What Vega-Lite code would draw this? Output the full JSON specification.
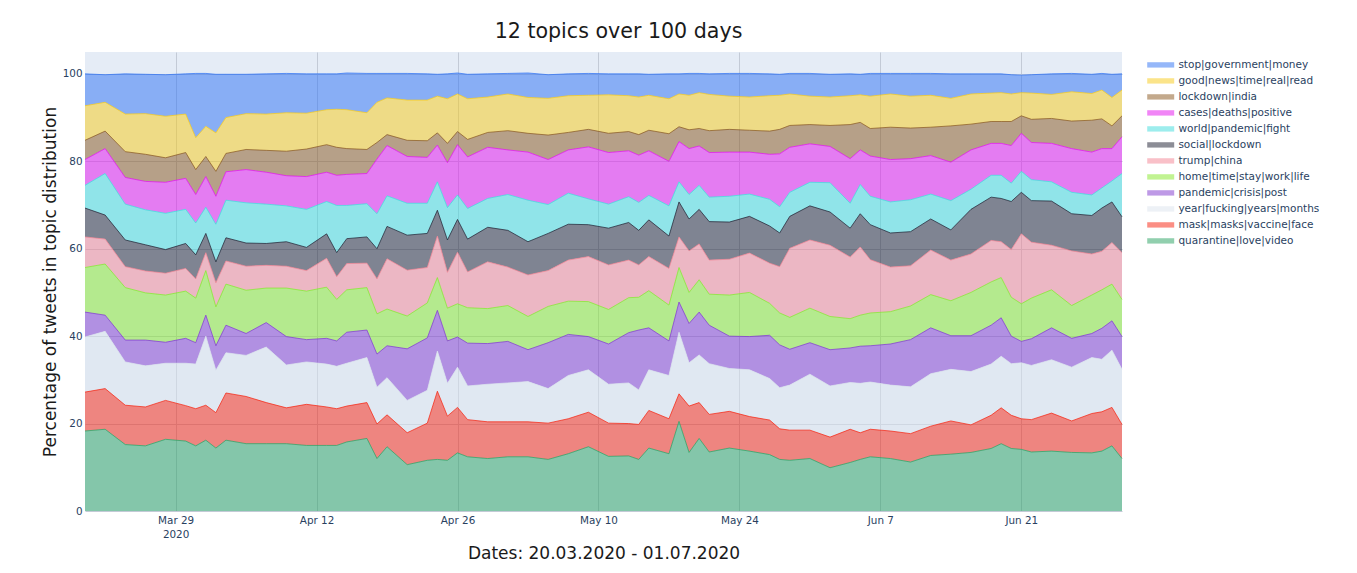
{
"$schema":"https://vega.github.io/schema/vega-lite/v6.json",
"width":1037,"height":459,
"autosize":{"type":"none"},
"padding":{"left":85,"top":52,"right":235,"bottom":62},
"background":"white",
"title":{"text":"12 topics over 100 days","fontSize":20.6,"font":"DejaVu Sans","fontWeight":"normal","color":"#1a1a1a","anchor":"middle","dx":15,"offset":9},
"datasets":{
"topics":[{"key":"stop","id":11,"topic":"stop|government|money"},{"key":"good","id":10,"topic":"good|news|time|real|read"},{"key":"lock","id":9,"topic":"lockdown|india"},{"key":"cases","id":8,"topic":"cases|deaths|positive"},{"key":"world","id":7,"topic":"world|pandemic|fight"},{"key":"social","id":6,"topic":"social|lockdown"},{"key":"trump","id":5,"topic":"trump|china"},{"key":"home","id":4,"topic":"home|time|stay|work|life"},{"key":"pand","id":3,"topic":"pandemic|crisis|post"},{"key":"year","id":2,"topic":"year|fucking|years|months"},{"key":"mask","id":1,"topic":"mask|masks|vaccine|face"},{"key":"quar","id":0,"topic":"quarantine|love|video"}],
"shares":[
{"date":"2020-03-20","key":"stop","pct":7.3},{"date":"2020-03-20","key":"good","pct":7.9},{"date":"2020-03-20","key":"lock","pct":4.4},{"date":"2020-03-20","key":"cases","pct":5.9},{"date":"2020-03-20","key":"world","pct":5.2},{"date":"2020-03-20","key":"social","pct":6.6},{"date":"2020-03-20","key":"trump","pct":7.0},{"date":"2020-03-20","key":"home","pct":10.2},{"date":"2020-03-20","key":"pand","pct":5.7},{"date":"2020-03-20","key":"year","pct":12.6},{"date":"2020-03-20","key":"mask","pct":8.9},{"date":"2020-03-20","key":"quar","pct":18.3},
{"date":"2020-03-22","key":"stop","pct":6.3},{"date":"2020-03-22","key":"good","pct":6.6},{"date":"2020-03-22","key":"lock","pct":4.0},{"date":"2020-03-22","key":"cases","pct":5.7},{"date":"2020-03-22","key":"world","pct":9.5},{"date":"2020-03-22","key":"social","pct":5.5},{"date":"2020-03-22","key":"trump","pct":5.7},{"date":"2020-03-22","key":"home","pct":11.7},{"date":"2020-03-22","key":"pand","pct":3.7},{"date":"2020-03-22","key":"year","pct":13.1},{"date":"2020-03-22","key":"mask","pct":9.3},{"date":"2020-03-22","key":"quar","pct":18.7},
{"date":"2020-03-24","key":"stop","pct":9.2},{"date":"2020-03-24","key":"good","pct":8.6},{"date":"2020-03-24","key":"lock","pct":5.9},{"date":"2020-03-24","key":"cases","pct":6.1},{"date":"2020-03-24","key":"world","pct":8.2},{"date":"2020-03-24","key":"social","pct":6.1},{"date":"2020-03-24","key":"trump","pct":4.8},{"date":"2020-03-24","key":"home","pct":12.0},{"date":"2020-03-24","key":"pand","pct":5.0},{"date":"2020-03-24","key":"year","pct":9.9},{"date":"2020-03-24","key":"mask","pct":9.0},{"date":"2020-03-24","key":"quar","pct":15.2},
{"date":"2020-03-26","key":"stop","pct":9.0},{"date":"2020-03-26","key":"good","pct":9.3},{"date":"2020-03-26","key":"lock","pct":6.2},{"date":"2020-03-26","key":"cases","pct":6.5},{"date":"2020-03-26","key":"world","pct":8.0},{"date":"2020-03-26","key":"social","pct":6.0},{"date":"2020-03-26","key":"trump","pct":5.0},{"date":"2020-03-26","key":"home","pct":10.8},{"date":"2020-03-26","key":"pand","pct":5.9},{"date":"2020-03-26","key":"year","pct":9.4},{"date":"2020-03-26","key":"mask","pct":8.9},{"date":"2020-03-26","key":"quar","pct":14.9},
{"date":"2020-03-28","key":"stop","pct":9.5},{"date":"2020-03-28","key":"good","pct":9.5},{"date":"2020-03-28","key":"lock","pct":5.6},{"date":"2020-03-28","key":"cases","pct":7.1},{"date":"2020-03-28","key":"world","pct":8.3},{"date":"2020-03-28","key":"social","pct":5.4},{"date":"2020-03-28","key":"trump","pct":5.0},{"date":"2020-03-28","key":"home","pct":10.8},{"date":"2020-03-28","key":"pand","pct":4.8},{"date":"2020-03-28","key":"year","pct":8.5},{"date":"2020-03-28","key":"mask","pct":8.9},{"date":"2020-03-28","key":"quar","pct":16.4},
{"date":"2020-03-30","key":"stop","pct":9.2},{"date":"2020-03-30","key":"good","pct":8.8},{"date":"2020-03-30","key":"lock","pct":5.9},{"date":"2020-03-30","key":"cases","pct":7.1},{"date":"2020-03-30","key":"world","pct":7.8},{"date":"2020-03-30","key":"social","pct":5.7},{"date":"2020-03-30","key":"trump","pct":5.2},{"date":"2020-03-30","key":"home","pct":10.8},{"date":"2020-03-30","key":"pand","pct":5.7},{"date":"2020-03-30","key":"year","pct":9.7},{"date":"2020-03-30","key":"mask","pct":8.1},{"date":"2020-03-30","key":"quar","pct":16.0},
{"date":"2020-03-31","key":"stop","pct":14.7},{"date":"2020-03-31","key":"good","pct":7.3},{"date":"2020-03-31","key":"lock","pct":5.7},{"date":"2020-03-31","key":"cases","pct":6.5},{"date":"2020-03-31","key":"world","pct":7.3},{"date":"2020-03-31","key":"social","pct":5.5},{"date":"2020-03-31","key":"trump","pct":4.4},{"date":"2020-03-31","key":"home","pct":10.2},{"date":"2020-03-31","key":"pand","pct":4.9},{"date":"2020-03-31","key":"year","pct":10.2},{"date":"2020-03-31","key":"mask","pct":8.5},{"date":"2020-03-31","key":"quar","pct":14.9},
{"date":"2020-04-01","key":"stop","pct":12.1},{"date":"2020-04-01","key":"good","pct":6.9},{"date":"2020-04-01","key":"lock","pct":4.6},{"date":"2020-04-01","key":"cases","pct":7.0},{"date":"2020-04-01","key":"world","pct":6.0},{"date":"2020-04-01","key":"social","pct":4.4},{"date":"2020-04-01","key":"trump","pct":4.1},{"date":"2020-04-01","key":"home","pct":10.2},{"date":"2020-04-01","key":"pand","pct":4.8},{"date":"2020-04-01","key":"year","pct":15.8},{"date":"2020-04-01","key":"mask","pct":8.0},{"date":"2020-04-01","key":"quar","pct":16.2},
{"date":"2020-04-02","key":"stop","pct":13.4},{"date":"2020-04-02","key":"good","pct":8.8},{"date":"2020-04-02","key":"lock","pct":5.7},{"date":"2020-04-02","key":"cases","pct":6.4},{"date":"2020-04-02","key":"world","pct":8.6},{"date":"2020-04-02","key":"social","pct":4.8},{"date":"2020-04-02","key":"trump","pct":5.5},{"date":"2020-04-02","key":"home","pct":8.9},{"date":"2020-04-02","key":"pand","pct":5.6},{"date":"2020-04-02","key":"year","pct":9.7},{"date":"2020-04-02","key":"mask","pct":8.1},{"date":"2020-04-02","key":"quar","pct":14.4},
{"date":"2020-04-03","key":"stop","pct":9.9},{"date":"2020-04-03","key":"good","pct":8.2},{"date":"2020-04-03","key":"lock","pct":4.2},{"date":"2020-04-03","key":"cases","pct":6.5},{"date":"2020-04-03","key":"world","pct":8.6},{"date":"2020-04-03","key":"social","pct":5.3},{"date":"2020-04-03","key":"trump","pct":5.3},{"date":"2020-04-03","key":"home","pct":9.4},{"date":"2020-04-03","key":"pand","pct":6.3},{"date":"2020-04-03","key":"year","pct":9.2},{"date":"2020-04-03","key":"mask","pct":10.8},{"date":"2020-04-03","key":"quar","pct":16.2},
{"date":"2020-04-05","key":"stop","pct":9.0},{"date":"2020-04-05","key":"good","pct":8.2},{"date":"2020-04-05","key":"lock","pct":4.6},{"date":"2020-04-05","key":"cases","pct":7.6},{"date":"2020-04-05","key":"world","pct":9.2},{"date":"2020-04-05","key":"social","pct":5.3},{"date":"2020-04-05","key":"trump","pct":5.5},{"date":"2020-04-05","key":"home","pct":9.9},{"date":"2020-04-05","key":"pand","pct":5.0},{"date":"2020-04-05","key":"year","pct":9.4},{"date":"2020-04-05","key":"mask","pct":10.8},{"date":"2020-04-05","key":"quar","pct":15.4},
{"date":"2020-04-07","key":"stop","pct":9.2},{"date":"2020-04-07","key":"good","pct":8.3},{"date":"2020-04-07","key":"lock","pct":5.0},{"date":"2020-04-07","key":"cases","pct":7.3},{"date":"2020-04-07","key":"world","pct":9.0},{"date":"2020-04-07","key":"social","pct":5.0},{"date":"2020-04-07","key":"trump","pct":5.2},{"date":"2020-04-07","key":"home","pct":7.9},{"date":"2020-04-07","key":"pand","pct":5.6},{"date":"2020-04-07","key":"year","pct":12.7},{"date":"2020-04-07","key":"mask","pct":9.4},{"date":"2020-04-07","key":"quar","pct":15.4},
{"date":"2020-04-09","key":"stop","pct":9.0},{"date":"2020-04-09","key":"good","pct":8.8},{"date":"2020-04-09","key":"lock","pct":5.6},{"date":"2020-04-09","key":"cases","pct":6.9},{"date":"2020-04-09","key":"world","pct":8.2},{"date":"2020-04-09","key":"social","pct":5.6},{"date":"2020-04-09","key":"trump","pct":5.0},{"date":"2020-04-09","key":"home","pct":11.1},{"date":"2020-04-09","key":"pand","pct":6.5},{"date":"2020-04-09","key":"year","pct":9.8},{"date":"2020-04-09","key":"mask","pct":8.2},{"date":"2020-04-09","key":"quar","pct":15.4},
{"date":"2020-04-11","key":"stop","pct":9.0},{"date":"2020-04-11","key":"good","pct":8.2},{"date":"2020-04-11","key":"lock","pct":6.3},{"date":"2020-04-11","key":"cases","pct":7.5},{"date":"2020-04-11","key":"world","pct":8.7},{"date":"2020-04-11","key":"social","pct":5.3},{"date":"2020-04-11","key":"trump","pct":4.7},{"date":"2020-04-11","key":"home","pct":11.1},{"date":"2020-04-11","key":"pand","pct":5.1},{"date":"2020-04-11","key":"year","pct":9.7},{"date":"2020-04-11","key":"mask","pct":9.4},{"date":"2020-04-11","key":"quar","pct":15.0},
{"date":"2020-04-13","key":"stop","pct":8.2},{"date":"2020-04-13","key":"good","pct":8.0},{"date":"2020-04-13","key":"lock","pct":6.3},{"date":"2020-04-13","key":"cases","pct":6.7},{"date":"2020-04-13","key":"world","pct":7.4},{"date":"2020-04-13","key":"social","pct":5.6},{"date":"2020-04-13","key":"trump","pct":6.6},{"date":"2020-04-13","key":"home","pct":11.7},{"date":"2020-04-13","key":"pand","pct":5.9},{"date":"2020-04-13","key":"year","pct":9.8},{"date":"2020-04-13","key":"mask","pct":8.8},{"date":"2020-04-13","key":"quar","pct":15.0},
{"date":"2020-04-14","key":"stop","pct":8.1},{"date":"2020-04-14","key":"good","pct":8.7},{"date":"2020-04-14","key":"lock","pct":6.4},{"date":"2020-04-14","key":"cases","pct":6.9},{"date":"2020-04-14","key":"world","pct":10.8},{"date":"2020-04-14","key":"social","pct":5.5},{"date":"2020-04-14","key":"trump","pct":5.2},{"date":"2020-04-14","key":"home","pct":9.5},{"date":"2020-04-14","key":"pand","pct":5.8},{"date":"2020-04-14","key":"year","pct":9.7},{"date":"2020-04-14","key":"mask","pct":8.4},{"date":"2020-04-14","key":"quar","pct":15.0},
{"date":"2020-04-15","key":"stop","pct":8.4},{"date":"2020-04-15","key":"good","pct":8.9},{"date":"2020-04-15","key":"lock","pct":5.9},{"date":"2020-04-15","key":"cases","pct":7.1},{"date":"2020-04-15","key":"world","pct":7.6},{"date":"2020-04-15","key":"social","pct":5.7},{"date":"2020-04-15","key":"trump","pct":6.0},{"date":"2020-04-15","key":"home","pct":9.7},{"date":"2020-04-15","key":"pand","pct":7.1},{"date":"2020-04-15","key":"year","pct":9.8},{"date":"2020-04-15","key":"mask","pct":8.2},{"date":"2020-04-15","key":"quar","pct":15.8},
{"date":"2020-04-17","key":"stop","pct":9.0},{"date":"2020-04-17","key":"good","pct":8.4},{"date":"2020-04-17","key":"lock","pct":5.5},{"date":"2020-04-17","key":"cases","pct":6.9},{"date":"2020-04-17","key":"world","pct":7.6},{"date":"2020-04-17","key":"social","pct":6.0},{"date":"2020-04-17","key":"trump","pct":5.6},{"date":"2020-04-17","key":"home","pct":9.7},{"date":"2020-04-17","key":"pand","pct":6.3},{"date":"2020-04-17","key":"year","pct":10.3},{"date":"2020-04-17","key":"mask","pct":8.2},{"date":"2020-04-17","key":"quar","pct":16.6},
{"date":"2020-04-18","key":"stop","pct":6.6},{"date":"2020-04-18","key":"good","pct":9.2},{"date":"2020-04-18","key":"lock","pct":3.8},{"date":"2020-04-18","key":"cases","pct":12.5},{"date":"2020-04-18","key":"world","pct":8.0},{"date":"2020-04-18","key":"social","pct":6.9},{"date":"2020-04-18","key":"trump","pct":8.0},{"date":"2020-04-18","key":"home","pct":9.2},{"date":"2020-04-18","key":"pand","pct":7.6},{"date":"2020-04-18","key":"year","pct":8.4},{"date":"2020-04-18","key":"mask","pct":7.9},{"date":"2020-04-18","key":"quar","pct":12.0},
{"date":"2020-04-19","key":"stop","pct":5.6},{"date":"2020-04-19","key":"good","pct":8.4},{"date":"2020-04-19","key":"lock","pct":2.5},{"date":"2020-04-19","key":"cases","pct":11.5},{"date":"2020-04-19","key":"world","pct":7.0},{"date":"2020-04-19","key":"social","pct":7.4},{"date":"2020-04-19","key":"trump","pct":11.5},{"date":"2020-04-19","key":"home","pct":8.4},{"date":"2020-04-19","key":"pand","pct":7.3},{"date":"2020-04-19","key":"year","pct":8.5},{"date":"2020-04-19","key":"mask","pct":7.3},{"date":"2020-04-19","key":"quar","pct":14.7},
{"date":"2020-04-21","key":"stop","pct":6.1},{"date":"2020-04-21","key":"good","pct":9.2},{"date":"2020-04-21","key":"lock","pct":3.7},{"date":"2020-04-21","key":"cases","pct":10.7},{"date":"2020-04-21","key":"world","pct":7.3},{"date":"2020-04-21","key":"social","pct":8.0},{"date":"2020-04-21","key":"trump","pct":10.5},{"date":"2020-04-21","key":"home","pct":7.5},{"date":"2020-04-21","key":"pand","pct":11.8},{"date":"2020-04-21","key":"year","pct":7.4},{"date":"2020-04-21","key":"mask","pct":7.3},{"date":"2020-04-21","key":"quar","pct":10.6},
{"date":"2020-04-23","key":"stop","pct":6.0},{"date":"2020-04-23","key":"good","pct":9.3},{"date":"2020-04-23","key":"lock","pct":3.8},{"date":"2020-04-23","key":"cases","pct":10.5},{"date":"2020-04-23","key":"world","pct":6.9},{"date":"2020-04-23","key":"social","pct":7.8},{"date":"2020-04-23","key":"trump","pct":8.1},{"date":"2020-04-23","key":"home","pct":8.0},{"date":"2020-04-23","key":"pand","pct":12.0},{"date":"2020-04-23","key":"year","pct":7.5},{"date":"2020-04-23","key":"mask","pct":8.5},{"date":"2020-04-23","key":"quar","pct":11.6},
{"date":"2020-04-24","key":"stop","pct":5.0},{"date":"2020-04-24","key":"good","pct":8.4},{"date":"2020-04-24","key":"lock","pct":2.8},{"date":"2020-04-24","key":"cases","pct":8.4},{"date":"2020-04-24","key":"world","pct":6.5},{"date":"2020-04-24","key":"social","pct":5.9},{"date":"2020-04-24","key":"trump","pct":9.5},{"date":"2020-04-24","key":"home","pct":7.5},{"date":"2020-04-24","key":"pand","pct":9.3},{"date":"2020-04-24","key":"year","pct":9.2},{"date":"2020-04-24","key":"mask","pct":15.6},{"date":"2020-04-24","key":"quar","pct":11.8},
{"date":"2020-04-25","key":"stop","pct":5.7},{"date":"2020-04-25","key":"good","pct":10.2},{"date":"2020-04-25","key":"lock","pct":4.4},{"date":"2020-04-25","key":"cases","pct":10.3},{"date":"2020-04-25","key":"world","pct":7.4},{"date":"2020-04-25","key":"social","pct":7.4},{"date":"2020-04-25","key":"trump","pct":8.2},{"date":"2020-04-25","key":"home","pct":7.5},{"date":"2020-04-25","key":"pand","pct":9.7},{"date":"2020-04-25","key":"year","pct":7.5},{"date":"2020-04-25","key":"mask","pct":10.1},{"date":"2020-04-25","key":"quar","pct":11.6},
{"date":"2020-04-26","key":"stop","pct":4.8},{"date":"2020-04-26","key":"good","pct":8.6},{"date":"2020-04-26","key":"lock","pct":3.0},{"date":"2020-04-26","key":"cases","pct":11.5},{"date":"2020-04-26","key":"world","pct":5.6},{"date":"2020-04-26","key":"social","pct":7.5},{"date":"2020-04-26","key":"trump","pct":11.8},{"date":"2020-04-26","key":"home","pct":7.6},{"date":"2020-04-26","key":"pand","pct":6.9},{"date":"2020-04-26","key":"year","pct":9.2},{"date":"2020-04-26","key":"mask","pct":10.4},{"date":"2020-04-26","key":"quar","pct":13.3},
{"date":"2020-04-27","key":"stop","pct":5.6},{"date":"2020-04-27","key":"good","pct":9.3},{"date":"2020-04-27","key":"lock","pct":4.0},{"date":"2020-04-27","key":"cases","pct":11.8},{"date":"2020-04-27","key":"world","pct":7.0},{"date":"2020-04-27","key":"social","pct":7.5},{"date":"2020-04-27","key":"trump","pct":8.2},{"date":"2020-04-27","key":"home","pct":8.1},{"date":"2020-04-27","key":"pand","pct":9.8},{"date":"2020-04-27","key":"year","pct":7.7},{"date":"2020-04-27","key":"mask","pct":8.5},{"date":"2020-04-27","key":"quar","pct":12.4},
{"date":"2020-04-29","key":"stop","pct":5.3},{"date":"2020-04-29","key":"good","pct":8.1},{"date":"2020-04-29","key":"lock","pct":3.4},{"date":"2020-04-29","key":"cases","pct":11.7},{"date":"2020-04-29","key":"world","pct":6.6},{"date":"2020-04-29","key":"social","pct":7.9},{"date":"2020-04-29","key":"trump","pct":10.7},{"date":"2020-04-29","key":"home","pct":8.0},{"date":"2020-04-29","key":"pand","pct":9.3},{"date":"2020-04-29","key":"year","pct":8.6},{"date":"2020-04-29","key":"mask","pct":8.4},{"date":"2020-04-29","key":"quar","pct":12.0},
{"date":"2020-05-01","key":"stop","pct":4.7},{"date":"2020-05-01","key":"good","pct":8.4},{"date":"2020-05-01","key":"lock","pct":4.4},{"date":"2020-05-01","key":"cases","pct":10.2},{"date":"2020-05-01","key":"world","pct":8.2},{"date":"2020-05-01","key":"social","pct":8.4},{"date":"2020-05-01","key":"trump","pct":8.8},{"date":"2020-05-01","key":"home","pct":8.2},{"date":"2020-05-01","key":"pand","pct":9.5},{"date":"2020-05-01","key":"year","pct":8.9},{"date":"2020-05-01","key":"mask","pct":8.0},{"date":"2020-05-01","key":"quar","pct":12.4},
{"date":"2020-05-03","key":"stop","pct":5.6},{"date":"2020-05-03","key":"good","pct":8.2},{"date":"2020-05-03","key":"lock","pct":4.3},{"date":"2020-05-03","key":"cases","pct":11.0},{"date":"2020-05-03","key":"world","pct":9.5},{"date":"2020-05-03","key":"social","pct":7.6},{"date":"2020-05-03","key":"trump","pct":9.5},{"date":"2020-05-03","key":"home","pct":7.6},{"date":"2020-05-03","key":"pand","pct":7.3},{"date":"2020-05-03","key":"year","pct":9.2},{"date":"2020-05-03","key":"mask","pct":8.0},{"date":"2020-05-03","key":"quar","pct":12.4},
{"date":"2020-05-05","key":"stop","pct":5.4},{"date":"2020-05-05","key":"good","pct":8.4},{"date":"2020-05-05","key":"lock","pct":5.6},{"date":"2020-05-05","key":"cases","pct":10.3},{"date":"2020-05-05","key":"world","pct":6.6},{"date":"2020-05-05","key":"social","pct":8.5},{"date":"2020-05-05","key":"trump","pct":8.2},{"date":"2020-05-05","key":"home","pct":8.3},{"date":"2020-05-05","key":"pand","pct":10.5},{"date":"2020-05-05","key":"year","pct":7.9},{"date":"2020-05-05","key":"mask","pct":8.3},{"date":"2020-05-05","key":"quar","pct":11.8},
{"date":"2020-05-07","key":"stop","pct":5.0},{"date":"2020-05-07","key":"good","pct":8.4},{"date":"2020-05-07","key":"lock","pct":4.0},{"date":"2020-05-07","key":"cases","pct":9.9},{"date":"2020-05-07","key":"world","pct":7.1},{"date":"2020-05-07","key":"social","pct":8.2},{"date":"2020-05-07","key":"trump","pct":9.4},{"date":"2020-05-07","key":"home","pct":7.6},{"date":"2020-05-07","key":"pand","pct":9.4},{"date":"2020-05-07","key":"year","pct":9.9},{"date":"2020-05-07","key":"mask","pct":8.0},{"date":"2020-05-07","key":"quar","pct":13.1},
{"date":"2020-05-09","key":"stop","pct":5.0},{"date":"2020-05-09","key":"good","pct":7.8},{"date":"2020-05-09","key":"lock","pct":4.0},{"date":"2020-05-09","key":"cases","pct":11.9},{"date":"2020-05-09","key":"world","pct":5.9},{"date":"2020-05-09","key":"social","pct":7.3},{"date":"2020-05-09","key":"trump","pct":10.3},{"date":"2020-05-09","key":"home","pct":8.0},{"date":"2020-05-09","key":"pand","pct":7.6},{"date":"2020-05-09","key":"year","pct":9.7},{"date":"2020-05-09","key":"mask","pct":7.9},{"date":"2020-05-09","key":"quar","pct":14.7},
{"date":"2020-05-11","key":"stop","pct":4.8},{"date":"2020-05-11","key":"good","pct":8.8},{"date":"2020-05-11","key":"lock","pct":4.4},{"date":"2020-05-11","key":"cases","pct":11.8},{"date":"2020-05-11","key":"world","pct":5.5},{"date":"2020-05-11","key":"social","pct":8.4},{"date":"2020-05-11","key":"trump","pct":10.2},{"date":"2020-05-11","key":"home","pct":7.9},{"date":"2020-05-11","key":"pand","pct":9.2},{"date":"2020-05-11","key":"year","pct":8.9},{"date":"2020-05-11","key":"mask","pct":7.6},{"date":"2020-05-11","key":"quar","pct":12.5},
{"date":"2020-05-13","key":"stop","pct":5.0},{"date":"2020-05-13","key":"good","pct":8.2},{"date":"2020-05-13","key":"lock","pct":4.4},{"date":"2020-05-13","key":"cases","pct":10.5},{"date":"2020-05-13","key":"world","pct":5.9},{"date":"2020-05-13","key":"social","pct":8.6},{"date":"2020-05-13","key":"trump","pct":8.6},{"date":"2020-05-13","key":"home","pct":8.0},{"date":"2020-05-13","key":"pand","pct":11.5},{"date":"2020-05-13","key":"year","pct":9.3},{"date":"2020-05-13","key":"mask","pct":7.4},{"date":"2020-05-13","key":"quar","pct":12.6},
{"date":"2020-05-14","key":"stop","pct":5.3},{"date":"2020-05-14","key":"good","pct":8.6},{"date":"2020-05-14","key":"lock","pct":4.7},{"date":"2020-05-14","key":"cases","pct":10.8},{"date":"2020-05-14","key":"world","pct":6.4},{"date":"2020-05-14","key":"social","pct":7.9},{"date":"2020-05-14","key":"trump","pct":7.4},{"date":"2020-05-14","key":"home","pct":7.5},{"date":"2020-05-14","key":"pand","pct":13.7},{"date":"2020-05-14","key":"year","pct":7.9},{"date":"2020-05-14","key":"mask","pct":8.0},{"date":"2020-05-14","key":"quar","pct":11.8},
{"date":"2020-05-15","key":"stop","pct":4.8},{"date":"2020-05-15","key":"good","pct":8.0},{"date":"2020-05-15","key":"lock","pct":4.7},{"date":"2020-05-15","key":"cases","pct":10.2},{"date":"2020-05-15","key":"world","pct":5.6},{"date":"2020-05-15","key":"social","pct":8.4},{"date":"2020-05-15","key":"trump","pct":7.8},{"date":"2020-05-15","key":"home","pct":8.5},{"date":"2020-05-15","key":"pand","pct":9.6},{"date":"2020-05-15","key":"year","pct":9.3},{"date":"2020-05-15","key":"mask","pct":8.6},{"date":"2020-05-15","key":"quar","pct":14.4},
{"date":"2020-05-17","key":"stop","pct":5.7},{"date":"2020-05-17","key":"good","pct":8.0},{"date":"2020-05-17","key":"lock","pct":6.3},{"date":"2020-05-17","key":"cases","pct":10.2},{"date":"2020-05-17","key":"world","pct":6.9},{"date":"2020-05-17","key":"social","pct":7.4},{"date":"2020-05-17","key":"trump","pct":8.4},{"date":"2020-05-17","key":"home","pct":8.2},{"date":"2020-05-17","key":"pand","pct":7.9},{"date":"2020-05-17","key":"year","pct":9.9},{"date":"2020-05-17","key":"mask","pct":8.0},{"date":"2020-05-17","key":"quar","pct":13.1},
{"date":"2020-05-18","key":"stop","pct":4.6},{"date":"2020-05-18","key":"good","pct":7.5},{"date":"2020-05-18","key":"lock","pct":3.4},{"date":"2020-05-18","key":"cases","pct":9.2},{"date":"2020-05-18","key":"world","pct":4.6},{"date":"2020-05-18","key":"social","pct":8.0},{"date":"2020-05-18","key":"trump","pct":7.0},{"date":"2020-05-18","key":"home","pct":7.9},{"date":"2020-05-18","key":"pand","pct":6.9},{"date":"2020-05-18","key":"year","pct":14.1},{"date":"2020-05-18","key":"mask","pct":6.3},{"date":"2020-05-18","key":"quar","pct":20.5},
{"date":"2020-05-19","key":"stop","pct":5.0},{"date":"2020-05-19","key":"good","pct":7.9},{"date":"2020-05-19","key":"lock","pct":4.3},{"date":"2020-05-19","key":"cases","pct":10.5},{"date":"2020-05-19","key":"world","pct":5.6},{"date":"2020-05-19","key":"social","pct":7.3},{"date":"2020-05-19","key":"trump","pct":9.5},{"date":"2020-05-19","key":"home","pct":7.1},{"date":"2020-05-19","key":"pand","pct":9.0},{"date":"2020-05-19","key":"year","pct":9.9},{"date":"2020-05-19","key":"mask","pct":10.6},{"date":"2020-05-19","key":"quar","pct":13.4},
{"date":"2020-05-20","key":"stop","pct":4.4},{"date":"2020-05-20","key":"good","pct":8.2},{"date":"2020-05-20","key":"lock","pct":4.0},{"date":"2020-05-20","key":"cases","pct":9.0},{"date":"2020-05-20","key":"world","pct":5.5},{"date":"2020-05-20","key":"social","pct":7.9},{"date":"2020-05-20","key":"trump","pct":8.2},{"date":"2020-05-20","key":"home","pct":7.4},{"date":"2020-05-20","key":"pand","pct":9.8},{"date":"2020-05-20","key":"year","pct":10.9},{"date":"2020-05-20","key":"mask","pct":8.2},{"date":"2020-05-20","key":"quar","pct":16.6},
{"date":"2020-05-21","key":"stop","pct":4.7},{"date":"2020-05-21","key":"good","pct":8.3},{"date":"2020-05-21","key":"lock","pct":5.0},{"date":"2020-05-21","key":"cases","pct":10.2},{"date":"2020-05-21","key":"world","pct":5.6},{"date":"2020-05-21","key":"social","pct":8.8},{"date":"2020-05-21","key":"trump","pct":7.8},{"date":"2020-05-21","key":"home","pct":7.1},{"date":"2020-05-21","key":"pand","pct":8.8},{"date":"2020-05-21","key":"year","pct":11.6},{"date":"2020-05-21","key":"mask","pct":8.6},{"date":"2020-05-21","key":"quar","pct":13.5},
{"date":"2020-05-23","key":"stop","pct":5.2},{"date":"2020-05-23","key":"good","pct":7.6},{"date":"2020-05-23","key":"lock","pct":5.2},{"date":"2020-05-23","key":"cases","pct":10.1},{"date":"2020-05-23","key":"world","pct":5.9},{"date":"2020-05-23","key":"social","pct":8.5},{"date":"2020-05-23","key":"trump","pct":8.2},{"date":"2020-05-23","key":"home","pct":9.4},{"date":"2020-05-23","key":"pand","pct":7.4},{"date":"2020-05-23","key":"year","pct":9.8},{"date":"2020-05-23","key":"mask","pct":8.4},{"date":"2020-05-23","key":"quar","pct":14.4},
{"date":"2020-05-25","key":"stop","pct":5.4},{"date":"2020-05-25","key":"good","pct":7.6},{"date":"2020-05-25","key":"lock","pct":5.0},{"date":"2020-05-25","key":"cases","pct":9.6},{"date":"2020-05-25","key":"world","pct":5.1},{"date":"2020-05-25","key":"social","pct":8.4},{"date":"2020-05-25","key":"trump","pct":9.0},{"date":"2020-05-25","key":"home","pct":10.1},{"date":"2020-05-25","key":"pand","pct":7.6},{"date":"2020-05-25","key":"year","pct":10.7},{"date":"2020-05-25","key":"mask","pct":7.9},{"date":"2020-05-25","key":"quar","pct":13.7},
{"date":"2020-05-27","key":"stop","pct":5.0},{"date":"2020-05-27","key":"good","pct":8.1},{"date":"2020-05-27","key":"lock","pct":5.3},{"date":"2020-05-27","key":"cases","pct":10.3},{"date":"2020-05-27","key":"world","pct":6.1},{"date":"2020-05-27","key":"social","pct":8.5},{"date":"2020-05-27","key":"trump","pct":9.2},{"date":"2020-05-27","key":"home","pct":7.3},{"date":"2020-05-27","key":"pand","pct":9.9},{"date":"2020-05-27","key":"year","pct":9.5},{"date":"2020-05-27","key":"mask","pct":7.9},{"date":"2020-05-27","key":"quar","pct":12.9},
{"date":"2020-05-28","key":"stop","pct":4.8},{"date":"2020-05-28","key":"good","pct":7.8},{"date":"2020-05-28","key":"lock","pct":5.6},{"date":"2020-05-28","key":"cases","pct":12.1},{"date":"2020-05-28","key":"world","pct":6.0},{"date":"2020-05-28","key":"social","pct":7.7},{"date":"2020-05-28","key":"trump","pct":10.6},{"date":"2020-05-28","key":"home","pct":7.3},{"date":"2020-05-28","key":"pand","pct":9.8},{"date":"2020-05-28","key":"year","pct":9.4},{"date":"2020-05-28","key":"mask","pct":7.0},{"date":"2020-05-28","key":"quar","pct":11.8},
{"date":"2020-05-29","key":"stop","pct":4.7},{"date":"2020-05-29","key":"good","pct":7.2},{"date":"2020-05-29","key":"lock","pct":5.0},{"date":"2020-05-29","key":"cases","pct":10.3},{"date":"2020-05-29","key":"world","pct":5.5},{"date":"2020-05-29","key":"social","pct":7.3},{"date":"2020-05-29","key":"trump","pct":15.8},{"date":"2020-05-29","key":"home","pct":7.3},{"date":"2020-05-29","key":"pand","pct":8.2},{"date":"2020-05-29","key":"year","pct":10.3},{"date":"2020-05-29","key":"mask","pct":6.9},{"date":"2020-05-29","key":"quar","pct":11.6},
{"date":"2020-05-31","key":"stop","pct":5.2},{"date":"2020-05-31","key":"good","pct":6.5},{"date":"2020-05-31","key":"lock","pct":4.4},{"date":"2020-05-31","key":"cases","pct":8.8},{"date":"2020-05-31","key":"world","pct":5.4},{"date":"2020-05-31","key":"social","pct":7.8},{"date":"2020-05-31","key":"trump","pct":15.6},{"date":"2020-05-31","key":"home","pct":7.9},{"date":"2020-05-31","key":"pand","pct":7.2},{"date":"2020-05-31","key":"year","pct":12.8},{"date":"2020-05-31","key":"mask","pct":6.5},{"date":"2020-05-31","key":"quar","pct":12.0},
{"date":"2020-06-02","key":"stop","pct":5.2},{"date":"2020-06-02","key":"good","pct":6.5},{"date":"2020-06-02","key":"lock","pct":4.8},{"date":"2020-06-02","key":"cases","pct":8.3},{"date":"2020-06-02","key":"world","pct":6.7},{"date":"2020-06-02","key":"social","pct":7.6},{"date":"2020-06-02","key":"trump","pct":16.3},{"date":"2020-06-02","key":"home","pct":7.6},{"date":"2020-06-02","key":"pand","pct":8.3},{"date":"2020-06-02","key":"year","pct":11.7},{"date":"2020-06-02","key":"mask","pct":7.0},{"date":"2020-06-02","key":"quar","pct":9.9},
{"date":"2020-06-04","key":"stop","pct":5.0},{"date":"2020-06-04","key":"good","pct":6.6},{"date":"2020-06-04","key":"lock","pct":7.8},{"date":"2020-06-04","key":"cases","pct":10.2},{"date":"2020-06-04","key":"world","pct":5.7},{"date":"2020-06-04","key":"social","pct":6.6},{"date":"2020-06-04","key":"trump","pct":14.1},{"date":"2020-06-04","key":"home","pct":6.7},{"date":"2020-06-04","key":"pand","pct":7.9},{"date":"2020-06-04","key":"year","pct":10.7},{"date":"2020-06-04","key":"mask","pct":7.6},{"date":"2020-06-04","key":"quar","pct":11.1},
{"date":"2020-06-05","key":"stop","pct":4.7},{"date":"2020-06-05","key":"good","pct":6.3},{"date":"2020-06-05","key":"lock","pct":6.3},{"date":"2020-06-05","key":"cases","pct":7.9},{"date":"2020-06-05","key":"world","pct":6.7},{"date":"2020-06-05","key":"social","pct":7.6},{"date":"2020-06-05","key":"trump","pct":15.6},{"date":"2020-06-05","key":"home","pct":7.1},{"date":"2020-06-05","key":"pand","pct":8.5},{"date":"2020-06-05","key":"year","pct":11.3},{"date":"2020-06-05","key":"mask","pct":6.1},{"date":"2020-06-05","key":"quar","pct":11.8},
{"date":"2020-06-06","key":"stop","pct":5.2},{"date":"2020-06-06","key":"good","pct":7.4},{"date":"2020-06-06","key":"lock","pct":6.3},{"date":"2020-06-06","key":"cases","pct":9.2},{"date":"2020-06-06","key":"world","pct":6.5},{"date":"2020-06-06","key":"social","pct":8.0},{"date":"2020-06-06","key":"trump","pct":12.2},{"date":"2020-06-06","key":"home","pct":7.5},{"date":"2020-06-06","key":"pand","pct":8.3},{"date":"2020-06-06","key":"year","pct":10.8},{"date":"2020-06-06","key":"mask","pct":6.3},{"date":"2020-06-06","key":"quar","pct":12.4},
{"date":"2020-06-08","key":"stop","pct":4.7},{"date":"2020-06-08","key":"good","pct":7.6},{"date":"2020-06-08","key":"lock","pct":7.4},{"date":"2020-06-08","key":"cases","pct":9.7},{"date":"2020-06-08","key":"world","pct":7.1},{"date":"2020-06-08","key":"social","pct":7.8},{"date":"2020-06-08","key":"trump","pct":10.2},{"date":"2020-06-08","key":"home","pct":7.4},{"date":"2020-06-08","key":"pand","pct":9.4},{"date":"2020-06-08","key":"year","pct":10.5},{"date":"2020-06-08","key":"mask","pct":6.3},{"date":"2020-06-08","key":"quar","pct":12.0},
{"date":"2020-06-10","key":"stop","pct":5.2},{"date":"2020-06-10","key":"good","pct":7.3},{"date":"2020-06-10","key":"lock","pct":7.0},{"date":"2020-06-10","key":"cases","pct":9.4},{"date":"2020-06-10","key":"world","pct":7.3},{"date":"2020-06-10","key":"social","pct":7.8},{"date":"2020-06-10","key":"trump","pct":9.2},{"date":"2020-06-10","key":"home","pct":7.7},{"date":"2020-06-10","key":"pand","pct":10.8},{"date":"2020-06-10","key":"year","pct":10.7},{"date":"2020-06-10","key":"mask","pct":6.5},{"date":"2020-06-10","key":"quar","pct":11.2},
{"date":"2020-06-12","key":"stop","pct":5.0},{"date":"2020-06-12","key":"good","pct":7.3},{"date":"2020-06-12","key":"lock","pct":6.5},{"date":"2020-06-12","key":"cases","pct":8.8},{"date":"2020-06-12","key":"world","pct":5.7},{"date":"2020-06-12","key":"social","pct":7.1},{"date":"2020-06-12","key":"trump","pct":10.2},{"date":"2020-06-12","key":"home","pct":7.6},{"date":"2020-06-12","key":"pand","pct":10.5},{"date":"2020-06-12","key":"year","pct":12.0},{"date":"2020-06-12","key":"mask","pct":6.7},{"date":"2020-06-12","key":"quar","pct":12.7},
{"date":"2020-06-14","key":"stop","pct":5.6},{"date":"2020-06-14","key":"good","pct":6.3},{"date":"2020-06-14","key":"lock","pct":8.3},{"date":"2020-06-14","key":"cases","pct":8.8},{"date":"2020-06-14","key":"world","pct":6.7},{"date":"2020-06-14","key":"social","pct":6.9},{"date":"2020-06-14","key":"trump","pct":9.3},{"date":"2020-06-14","key":"home","pct":8.0},{"date":"2020-06-14","key":"pand","pct":7.7},{"date":"2020-06-14","key":"year","pct":11.8},{"date":"2020-06-14","key":"mask","pct":7.6},{"date":"2020-06-14","key":"quar","pct":13.0},
{"date":"2020-06-16","key":"stop","pct":4.6},{"date":"2020-06-16","key":"good","pct":6.9},{"date":"2020-06-16","key":"lock","pct":5.9},{"date":"2020-06-16","key":"cases","pct":9.0},{"date":"2020-06-16","key":"world","pct":4.6},{"date":"2020-06-16","key":"social","pct":10.2},{"date":"2020-06-16","key":"trump","pct":8.8},{"date":"2020-06-16","key":"home","pct":9.9},{"date":"2020-06-16","key":"pand","pct":8.2},{"date":"2020-06-16","key":"year","pct":12.2},{"date":"2020-06-16","key":"mask","pct":6.3},{"date":"2020-06-16","key":"quar","pct":13.4},
{"date":"2020-06-18","key":"stop","pct":4.4},{"date":"2020-06-18","key":"good","pct":6.5},{"date":"2020-06-18","key":"lock","pct":5.0},{"date":"2020-06-18","key":"cases","pct":7.3},{"date":"2020-06-18","key":"world","pct":5.0},{"date":"2020-06-18","key":"social","pct":9.9},{"date":"2020-06-18","key":"trump","pct":9.5},{"date":"2020-06-18","key":"home","pct":9.9},{"date":"2020-06-18","key":"pand","pct":8.9},{"date":"2020-06-18","key":"year","pct":11.7},{"date":"2020-06-18","key":"mask","pct":7.6},{"date":"2020-06-18","key":"quar","pct":14.3},
{"date":"2020-06-19","key":"stop","pct":4.3},{"date":"2020-06-19","key":"good","pct":6.6},{"date":"2020-06-19","key":"lock","pct":5.0},{"date":"2020-06-19","key":"cases","pct":7.3},{"date":"2020-06-19","key":"world","pct":5.3},{"date":"2020-06-19","key":"social","pct":9.9},{"date":"2020-06-19","key":"trump","pct":8.2},{"date":"2020-06-19","key":"home","pct":9.2},{"date":"2020-06-19","key":"pand","pct":8.8},{"date":"2020-06-19","key":"year","pct":11.8},{"date":"2020-06-19","key":"mask","pct":8.2},{"date":"2020-06-19","key":"quar","pct":15.4},
{"date":"2020-06-20","key":"stop","pct":4.4},{"date":"2020-06-20","key":"good","pct":6.3},{"date":"2020-06-20","key":"lock","pct":5.5},{"date":"2020-06-20","key":"cases","pct":8.6},{"date":"2020-06-20","key":"world","pct":4.2},{"date":"2020-06-20","key":"social","pct":11.0},{"date":"2020-06-20","key":"trump","pct":10.9},{"date":"2020-06-20","key":"home","pct":8.9},{"date":"2020-06-20","key":"pand","pct":6.3},{"date":"2020-06-20","key":"year","pct":11.8},{"date":"2020-06-20","key":"mask","pct":7.6},{"date":"2020-06-20","key":"quar","pct":14.3},
{"date":"2020-06-21","key":"stop","pct":4.0},{"date":"2020-06-21","key":"good","pct":5.3},{"date":"2020-06-21","key":"lock","pct":4.0},{"date":"2020-06-21","key":"cases","pct":8.7},{"date":"2020-06-21","key":"world","pct":4.8},{"date":"2020-06-21","key":"social","pct":9.5},{"date":"2020-06-21","key":"trump","pct":16.0},{"date":"2020-06-21","key":"home","pct":8.6},{"date":"2020-06-21","key":"pand","pct":4.9},{"date":"2020-06-21","key":"year","pct":12.8},{"date":"2020-06-21","key":"mask","pct":7.0},{"date":"2020-06-21","key":"quar","pct":14.1},
{"date":"2020-06-22","key":"stop","pct":4.2},{"date":"2020-06-22","key":"good","pct":6.0},{"date":"2020-06-22","key":"lock","pct":5.3},{"date":"2020-06-22","key":"cases","pct":8.5},{"date":"2020-06-22","key":"world","pct":4.8},{"date":"2020-06-22","key":"social","pct":9.5},{"date":"2020-06-22","key":"trump","pct":12.8},{"date":"2020-06-22","key":"home","pct":9.3},{"date":"2020-06-22","key":"pand","pct":6.1},{"date":"2020-06-22","key":"year","pct":12.4},{"date":"2020-06-22","key":"mask","pct":7.4},{"date":"2020-06-22","key":"quar","pct":13.5},
{"date":"2020-06-24","key":"stop","pct":4.7},{"date":"2020-06-24","key":"good","pct":5.5},{"date":"2020-06-24","key":"lock","pct":5.7},{"date":"2020-06-24","key":"cases","pct":8.8},{"date":"2020-06-24","key":"world","pct":4.4},{"date":"2020-06-24","key":"social","pct":10.1},{"date":"2020-06-24","key":"trump","pct":10.2},{"date":"2020-06-24","key":"home","pct":8.7},{"date":"2020-06-24","key":"pand","pct":7.3},{"date":"2020-06-24","key":"year","pct":12.2},{"date":"2020-06-24","key":"mask","pct":8.7},{"date":"2020-06-24","key":"quar","pct":13.7},
{"date":"2020-06-26","key":"stop","pct":4.2},{"date":"2020-06-26","key":"good","pct":6.7},{"date":"2020-06-26","key":"lock","pct":6.3},{"date":"2020-06-26","key":"cases","pct":10.0},{"date":"2020-06-26","key":"world","pct":4.9},{"date":"2020-06-26","key":"social","pct":8.5},{"date":"2020-06-26","key":"trump","pct":12.5},{"date":"2020-06-26","key":"home","pct":7.5},{"date":"2020-06-26","key":"pand","pct":6.6},{"date":"2020-06-26","key":"year","pct":12.3},{"date":"2020-06-26","key":"mask","pct":7.2},{"date":"2020-06-26","key":"quar","pct":13.4},
{"date":"2020-06-28","key":"stop","pct":4.4},{"date":"2020-06-28","key":"good","pct":6.1},{"date":"2020-06-28","key":"lock","pct":7.3},{"date":"2020-06-28","key":"cases","pct":9.8},{"date":"2020-06-28","key":"world","pct":4.7},{"date":"2020-06-28","key":"social","pct":8.8},{"date":"2020-06-28","key":"trump","pct":9.4},{"date":"2020-06-28","key":"home","pct":8.8},{"date":"2020-06-28","key":"pand","pct":5.5},{"date":"2020-06-28","key":"year","pct":12.8},{"date":"2020-06-28","key":"mask","pct":9.0},{"date":"2020-06-28","key":"quar","pct":13.3},
{"date":"2020-06-29","key":"stop","pct":3.8},{"date":"2020-06-29","key":"good","pct":6.6},{"date":"2020-06-29","key":"lock","pct":6.8},{"date":"2020-06-29","key":"cases","pct":9.0},{"date":"2020-06-29","key":"world","pct":4.6},{"date":"2020-06-29","key":"social","pct":9.9},{"date":"2020-06-29","key":"trump","pct":8.8},{"date":"2020-06-29","key":"home","pct":8.8},{"date":"2020-06-29","key":"pand","pct":7.1},{"date":"2020-06-29","key":"year","pct":12.0},{"date":"2020-06-29","key":"mask","pct":9.0},{"date":"2020-06-29","key":"quar","pct":13.7},
{"date":"2020-06-30","key":"stop","pct":5.3},{"date":"2020-06-30","key":"good","pct":6.5},{"date":"2020-06-30","key":"lock","pct":5.2},{"date":"2020-06-30","key":"cases","pct":7.4},{"date":"2020-06-30","key":"world","pct":4.8},{"date":"2020-06-30","key":"social","pct":9.3},{"date":"2020-06-30","key":"trump","pct":9.5},{"date":"2020-06-30","key":"home","pct":8.4},{"date":"2020-06-30","key":"pand","pct":6.7},{"date":"2020-06-30","key":"year","pct":13.1},{"date":"2020-06-30","key":"mask","pct":8.8},{"date":"2020-06-30","key":"quar","pct":14.9},
{"date":"2020-07-01","key":"stop","pct":3.7},{"date":"2020-07-01","key":"good","pct":5.9},{"date":"2020-07-01","key":"lock","pct":4.8},{"date":"2020-07-01","key":"cases","pct":8.4},{"date":"2020-07-01","key":"world","pct":9.9},{"date":"2020-07-01","key":"social","pct":8.2},{"date":"2020-07-01","key":"trump","pct":10.7},{"date":"2020-07-01","key":"home","pct":8.5},{"date":"2020-07-01","key":"pand","pct":7.5},{"date":"2020-07-01","key":"year","pct":12.6},{"date":"2020-07-01","key":"mask","pct":7.8},{"date":"2020-07-01","key":"quar","pct":12.0}
]},
"data":{"name":"shares"},
"transform":[{"lookup":"key","from":{"data":{"name":"topics"},"key":"key","fields":["topic","id"]}}],
"mark":{"type":"area","fillOpacity":0.5,"line":{"strokeWidth":0.7}},
"encoding":{
"x":{"field":"date","type":"temporal","scale":{"type":"utc","nice":false},
 "axis":{"values":[{"year":2020,"month":3,"date":29,"utc":true},{"year":2020,"month":4,"date":12,"utc":true},{"year":2020,"month":4,"date":26,"utc":true},{"year":2020,"month":5,"date":10,"utc":true},{"year":2020,"month":5,"date":24,"utc":true},{"year":2020,"month":6,"date":7,"utc":true},{"year":2020,"month":6,"date":21,"utc":true}],
 "labelExpr":"utcFormat(datum.value, '%m-%d') == '03-29' ? [utcFormat(datum.value, '%b %-d'), '2020'] : utcFormat(datum.value, '%b %-d')",
 "grid":true,"gridColor":"#c3cad6","ticks":false,"domain":false,"labelPadding":4,"labelFontSize":10.4,"labelColor":"#2a3f5f","labelLineHeight":14,"labelFont":"DejaVu Sans",
 "title":"Dates: 20.03.2020 - 01.07.2020","titleFontSize":17,"titleFontWeight":"normal","titleColor":"#1a1a1a","titleFont":"DejaVu Sans","titlePadding":6}},
"y":{"field":"pct","type":"quantitative","stack":"zero","scale":{"domain":[0,105],"nice":false,"zero":true},
 "axis":{"values":[0,20,40,60,80,100],"grid":true,"gridColor":"#c3cad6","ticks":false,"domain":false,"labelPadding":3,"labelFontSize":10.4,"labelColor":"#2a3f5f","labelFont":"DejaVu Sans",
 "title":"Percentage of tweets in topic distribution","titleFontSize":17,"titleFontWeight":"normal","titleColor":"#1a1a1a","titleFont":"DejaVu Sans","titlePadding":3}},
"order":{"field":"id","type":"quantitative","sort":"ascending"},
"color":{"field":"topic","type":"nominal",
 "sort":["quarantine|love|video","mask|masks|vaccine|face","year|fucking|years|months","pandemic|crisis|post","home|time|stay|work|life","trump|china","social|lockdown","world|pandemic|fight","cases|deaths|positive","lockdown|india","good|news|time|real|read","stop|government|money"],
 "scale":{"range":["#23a05e","#f71e0a","#dbe4ee","#7d34ce","#83e826","#f38292","#191c2e","#3bdcdc","#e30cee","#87541a","#f7ca16","#2b70f4"]},
 "legend":{"orient":"none","legendX":1065.2,"legendY":2.4,"title":null,
  "values":["stop|government|money","good|news|time|real|read","lockdown|india","cases|deaths|positive","world|pandemic|fight","social|lockdown","trump|china","home|time|stay|work|life","pandemic|crisis|post","year|fucking|years|months","mask|masks|vaccine|face","quarantine|love|video"],
  "symbolType":"M-1.31,-0.26H1.31V0.26H-1.31Z","symbolSize":424,"symbolOpacity":0.5,"symbolStrokeWidth":0,
  "labelFontSize":10.5,"labelColor":"#2a3f5f","labelFont":"DejaVu Sans","labelOffset":7.2,"rowPadding":0,"labelLimit":0}}
},
"config":{"view":{"fill":"#E5ECF6","stroke":null},"font":"DejaVu Sans"}
}
